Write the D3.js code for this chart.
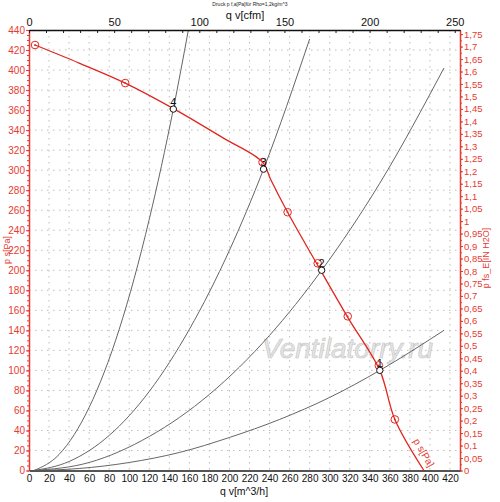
<!DOCTYPE html>
<html>
<head>
<meta charset="utf-8">
<script src="https://cdn.jsdelivr.net/npm/d3@7"></script>
<style>
  body { margin: 0; background: #fff; }
  text { font-family: "Liberation Sans", Arial, sans-serif; }
</style>
</head>
<body>
<div id="chart"></div>
<script>
// fan curve p s [Pa] over q v [m^3/h]
const fanQ = [6, 50, 96, 145, 194, 233, 241, 258, 288, 318, 350, 365, 394];
const fanP = [425, 407, 387, 361, 332, 308, 291, 258, 205, 153, 100, 51, 0];

// measured points (red circles)
const measQ = [6, 96, 233, 258, 288, 318, 349, 365];
const measP = [425, 387, 308, 258, 207, 154, 105, 51];

// system curves 1..4
const sys1Q = [5, 50, 100, 150, 200, 250, 300, 350, 414];
const sys1P = [0, 2, 8, 18, 33, 51, 73, 100, 140];
const sys2Q = [5, 60, 120, 180, 240, 292, 350, 414];
const sys2P = [0, 8, 34, 76, 135, 200, 287, 402];
const sys3Q = [5, 40, 80, 120, 160, 200, 234, 280];
const sys3P = [0, 9, 35, 79, 141, 220, 301, 431];
const sys4Q = [5, 30, 60, 90, 120, 144, 159];
const sys4P = [0, 16, 63, 141, 251, 361, 440];

// operating points
const opQ = [350, 292, 234, 144];
const opP = [100, 200, 301, 361];
const opLabels = ["1", "2", "3", "4"];

// ticks
const qTicks = d3.range(0, 421, 20);
const paTicks = d3.range(0, 441, 20);
const cfmTicks = [0, 50, 100, 150, 200, 250];
const inTicks = d3.range(0, 1.7501, 0.05);

function chartConfig() {
  let config = {
    width: 500,
    height: 502,
    red: "#e53b33",
    curveRed: "#e0261f",
    grey: "#555555",
    left: 29,
    right: 460,
    top: 30,
    bottom: 470.5,
    qMax: 430,
    paMax: 440,
    cfmPerM3h: 1 / 1.699,
    paPerInH2O: 249.09
  };
  config.svg = d3.select("#chart").append("svg")
    .attr("width", config.width)
    .attr("height", config.height);
  config.x = d3.scaleLinear().domain([0, config.qMax]).range([config.left, config.right]);
  config.y = d3.scaleLinear().domain([0, config.paMax]).range([config.bottom, config.top]);
  config.xCfm = d3.scaleLinear().domain([0, config.qMax * config.cfmPerM3h]).range([config.left, config.right]);
  config.yIn = d3.scaleLinear().domain([0, config.paMax / config.paPerInH2O]).range([config.bottom, config.top]);
  return config;
}

let cfg = chartConfig();

function drawGrid() {
  let g = cfg.svg.append("g");
  g.selectAll(".vgrid")
    .data(qTicks.filter(d => d > 0))
    .enter().append("line")
    .attr("x1", d => cfg.x(d)).attr("x2", d => cfg.x(d))
    .attr("y1", cfg.top).attr("y2", cfg.bottom)
    .attr("stroke", "#bdbdbd").attr("stroke-width", 1)
    .attr("stroke-dasharray", "1.5,4.5");
  g.selectAll(".hgrid")
    .data(paTicks.filter(d => d > 0 && d < 440))
    .enter().append("line")
    .attr("x1", cfg.left).attr("x2", cfg.right)
    .attr("y1", d => cfg.y(d)).attr("y2", d => cfg.y(d))
    .attr("stroke", "#bdbdbd").attr("stroke-width", 1)
    .attr("stroke-dasharray", "1.5,4.5");
}

function styleAxis(g, color, size) {
  g.selectAll("text").attr("fill", color).style("font-size", size + "px")
    .style("font-family", '"Liberation Sans", Arial, sans-serif');
  g.selectAll("line").attr("stroke", color);
  g.select(".domain").attr("stroke", color);
}

function drawAxes() {
  // left, Pa
  let minorLeft = cfg.svg.append("g").attr("transform", `translate(${cfg.left},0)`)
    .call(d3.axisLeft(cfg.y).tickValues(d3.range(0, 441, 5)).tickSize(2).tickFormat("").tickSizeOuter(0));
  styleAxis(minorLeft, cfg.red, 10);
  let left = cfg.svg.append("g").attr("transform", `translate(${cfg.left},0)`)
    .call(d3.axisLeft(cfg.y).tickValues(paTicks).tickSize(3).tickPadding(1).tickSizeOuter(0));
  styleAxis(left, cfg.red, 10);
  left.select(".domain").attr("stroke-width", 1.5);

  // right, in H2O
  let minorRight = cfg.svg.append("g").attr("transform", `translate(${cfg.right},0)`)
    .call(d3.axisRight(cfg.yIn).tickValues(d3.range(0, 1.76, 0.025)).tickSize(2).tickFormat("").tickSizeOuter(0));
  styleAxis(minorRight, cfg.red, 10);
  let right = cfg.svg.append("g").attr("transform", `translate(${cfg.right},0)`)
    .call(d3.axisRight(cfg.yIn).tickValues(inTicks).tickSize(3).tickPadding(1).tickSizeOuter(0)
      .tickFormat(d => d3.format(".2~f")(d).replace(".", ",")));
  styleAxis(right, cfg.red, 9.5);
  right.select(".domain").attr("stroke-width", 1.5);

  // bottom, m^3/h
  let bottom = cfg.svg.append("g").attr("transform", `translate(0,${cfg.bottom})`)
    .call(d3.axisBottom(cfg.x).tickValues(qTicks).tickSize(0).tickPadding(4).tickSizeOuter(0));
  styleAxis(bottom, "#111", 10);
  bottom.select(".domain").attr("stroke", cfg.grey).attr("stroke-width", 2);

  // top, cfm
  let topMinor = cfg.svg.append("g").attr("transform", `translate(0,${cfg.top})`)
    .call(d3.axisBottom(cfg.xCfm).tickValues(d3.range(0, 251, 10)).tickSize(3).tickFormat("").tickSizeOuter(0));
  styleAxis(topMinor, "#222", 10);
  let top = cfg.svg.append("g").attr("transform", `translate(0,${cfg.top})`)
    .call(d3.axisTop(cfg.xCfm).tickValues(cfmTicks).tickSize(0).tickPadding(4).tickSizeOuter(0));
  styleAxis(top, "#111", 11);
  top.select(".domain").attr("stroke", "#111").attr("stroke-width", 1.5);
}

function drawCurves() {
  let line = d3.line().x(d => cfg.x(d[0])).y(d => cfg.y(d[1])).curve(d3.curveMonotoneX);
  let systems = [[sys1Q, sys1P], [sys2Q, sys2P], [sys3Q, sys3P], [sys4Q, sys4P]];
  cfg.svg.selectAll(".sys")
    .data(systems.map(s => s[0].map((q, i) => [q, s[1][i]])))
    .enter().append("path")
    .attr("d", d => line(d))
    .attr("fill", "none")
    .attr("stroke", "#666")
    .attr("stroke-width", 1);

  let fanLine = d3.line().x(d => cfg.x(d[0])).y(d => cfg.y(d[1])).curve(d3.curveCatmullRom.alpha(0.5));
  cfg.svg.append("path")
    .attr("d", fanLine(fanQ.map((q, i) => [q, fanP[i]])))
    .attr("fill", "none")
    .attr("stroke", cfg.curveRed)
    .attr("stroke-width", 1.3);
}

function drawPoints() {
  let meas = measQ.map((q, i) => ({ q: q, p: measP[i] }));
  cfg.svg.selectAll(".meas")
    .data(meas).enter().append("circle")
    .attr("cx", d => cfg.x(d.q)).attr("cy", d => cfg.y(d.p))
    .attr("r", 3.8).attr("fill", "none")
    .attr("stroke", cfg.curveRed).attr("stroke-width", 1);
  cfg.svg.selectAll(".measdot")
    .data(meas).enter().append("circle")
    .attr("cx", d => cfg.x(d.q)).attr("cy", d => cfg.y(d.p))
    .attr("r", 0.9).attr("fill", cfg.curveRed);

  let ops = opQ.map((q, i) => ({ q: q, p: opP[i], label: opLabels[i] }));
  cfg.svg.selectAll(".op")
    .data(ops).enter().append("circle")
    .attr("cx", d => cfg.x(d.q)).attr("cy", d => cfg.y(d.p))
    .attr("r", 3.2).attr("fill", "#fff")
    .attr("stroke", "#111").attr("stroke-width", 1);
  cfg.svg.selectAll(".oplabel")
    .data(ops).enter().append("text")
    .attr("x", d => cfg.x(d.q)).attr("y", d => cfg.y(d.p) - 3.5)
    .attr("text-anchor", "middle")
    .style("font-size", "11px")
    .attr("fill", "#111")
    .text(d => d.label);
}

function drawTexts() {
  cfg.svg.append("text")
    .attr("x", 250).attr("y", 6)
    .attr("text-anchor", "middle")
    .style("font-size", "5px")
    .attr("fill", "#222")
    .text("Druck p f,a[Pa]für Rho=1,2kg/m^3");
  cfg.svg.append("text")
    .attr("x", 245).attr("y", 19)
    .attr("text-anchor", "middle")
    .style("font-size", "11px")
    .attr("fill", "#111")
    .text("q v[cfm]");
  cfg.svg.append("text")
    .attr("x", 244).attr("y", 495)
    .attr("text-anchor", "middle")
    .style("font-size", "10.5px")
    .attr("fill", "#111")
    .text("q v[m^3/h]");
  cfg.svg.append("text")
    .attr("transform", "translate(10,250) rotate(-90)")
    .attr("text-anchor", "middle")
    .style("font-size", "9px")
    .attr("fill", cfg.red)
    .text("p s[Pa]");
  cfg.svg.append("text")
    .attr("transform", "translate(489,258) rotate(-90)")
    .attr("text-anchor", "middle")
    .style("font-size", "9px")
    .attr("fill", cfg.red)
    .text("p fs_E[IN H2O]");
  cfg.svg.append("text")
    .attr("transform", "translate(413,441) rotate(60)")
    .style("font-size", "10px")
    .attr("fill", cfg.red)
    .text("p s[Pa]");
  cfg.svg.append("text")
    .attr("x", 262).attr("y", 358)
    .style("font-size", "28px")
    .style("font-style", "italic")
    .attr("fill", "#e6e6e6")
    .attr("stroke", "#c4c4c4")
    .attr("stroke-width", 0.6)
    .text("Ventilatorry.ru");
}

drawGrid();
drawTexts();
drawCurves();
drawAxes();
drawPoints();
</script>
</body>
</html>
